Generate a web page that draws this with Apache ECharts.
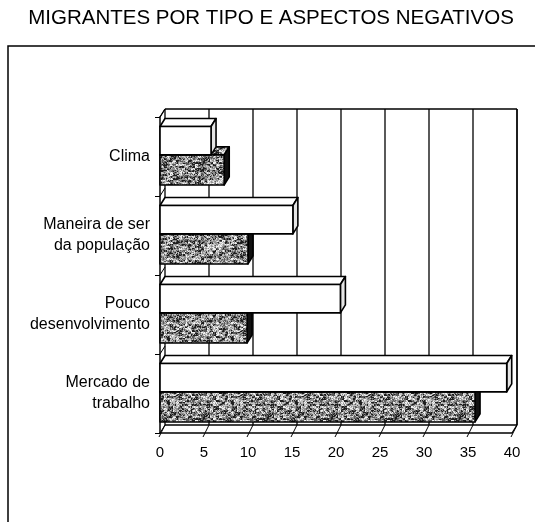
<!DOCTYPE html>
<html>
<head>
<meta charset="utf-8">
<script src="https://cdn.jsdelivr.net/npm/echarts@6/dist/echarts.min.js"></script>
<style>
  html, body { margin: 0; padding: 0; background: #fff; }
  #chart { width: 535px; height: 522px; }
</style>
</head>
<body>
<div id="chart"></div>
<script>
// Categories (top to bottom) and the two migrant groups per category
const categories = ['Clima', 'Maneira de ser\nda população', 'Pouco\ndesenvolvimento', 'Mercado de\ntrabalho'];
const plainBars = [5.8, 15.1, 20.5, 39.4];
const texturedBars = [7.3, 10.0, 9.9, 35.8];
const valueTicks = [0, 5, 10, 15, 20, 25, 30, 35, 40];

const chartTitle = 'MIGRANTES POR TIPO E ASPECTOS NEGATIVOS';

// Depth of the pseudo-3D box (px): back plane is shifted right and up
const DX = 5, DY = -8;
const INK = '#000';
const FONT = '"Liberation Sans", Arial, sans-serif';

// Deterministic speckled texture for the shaded bars
function hash(x, y) {
  let h = (Math.imul(x, 374761393) + Math.imul(y, 668265263)) | 0;
  h = Math.imul(h ^ (h >>> 13), 1274126177);
  return ((h ^ (h >>> 16)) >>> 0) / 4294967296;
}
function makeSpeckle() {
  const c = document.createElement('canvas');
  const S = 64;
  c.width = S; c.height = S;
  const ctx = c.getContext('2d');
  const img = ctx.createImageData(S, S);
  for (let y = 0; y < S; y++) {
    for (let x = 0; x < S; x++) {
      const n = 0.55 * hash(Math.floor(x / 3) + 11, Math.floor(y / 2) + 7) + 0.45 * hash(x + 101, y + 53);
      let v;
      if (n < 0.30) v = 30;
      else if (n < 0.44) v = 90;
      else if (n < 0.60) v = 145;
      else if (n < 0.78) v = 195;
      else v = 240;
      const i = (y * S + x) * 4;
      img.data[i] = img.data[i + 1] = img.data[i + 2] = v;
      img.data[i + 3] = 255;
    }
  }
  ctx.putImageData(img, 0, 0);
  return c;
}
const speckle = { image: makeSpeckle(), repeat: 'repeat' };

// Back wall, gridlines and floor
function renderFrame(params, api) {
  const cs = params.coordSys;
  const top = cs.y, bottom = cs.y + cs.height;
  const left = cs.x, right = cs.x + cs.width;
  const v = api.value(0);
  const x = api.coord([v, 0])[0];
  const children = [];
  const ln = (x1, y1, x2, y2, w) => children.push({
    type: 'line', shape: { x1, y1, x2, y2 },
    style: { stroke: INK, lineWidth: w || 1 }
  });
  // vertical gridline on the back wall
  ln(x + DX, top + DY, x + DX, bottom + DY, 1.3);
  // slanted tick across the floor
  ln(x - 1, bottom + 4, x + DX, bottom + DY, 1);
  if (params.dataIndex === 0) {
    ln(left + DX, top + DY, right + DX, top + DY, 1.5);      // wall top edge
    ln(right + DX, top + DY, right + DX, bottom + DY, 1.3);  // wall right edge
    ln(left + DX, bottom + DY, right + DX, bottom + DY, 1.3); // floor back edge
    ln(right, bottom, right + DX, bottom + DY, 1.3);          // floor right edge
    ln(left, top, left + DX, top + DY, 1.3);                  // side wall top edge
    const n = categories.length;
    for (let k = 0; k <= n; k++) {
      const yb = top + cs.height * k / n;
      ln(left, yb, left + DX, yb + DY, 1);
    }
  }
  return { type: 'group', children };
}

// One 3D box per data item
function makeBarRenderer(frontFill, topFill, sideFill, fromFrac, toFrac) {
  return function (params, api) {
    const val = api.value(0);
    const idx = api.value(1);
    const p0 = api.coord([0, idx]);
    const p1 = api.coord([val, idx]);
    const band = api.size([0, 1])[1];
    const x0 = p0[0], x1 = p1[0];
    const y0 = p0[1] + fromFrac * band;
    const y1 = p0[1] + toFrac * band;
    const stroke = { stroke: INK, lineWidth: 1.6, lineJoin: 'round' };
    return {
      type: 'group',
      children: [
        { type: 'polygon', shape: { points: [[x0, y0], [x0 + DX, y0 + DY], [x1 + DX, y0 + DY], [x1, y0]] },
          style: Object.assign({ fill: topFill }, stroke) },
        { type: 'polygon', shape: { points: [[x1, y0], [x1 + DX, y0 + DY], [x1 + DX, y1 + DY], [x1, y1]] },
          style: Object.assign({ fill: sideFill }, stroke) },
        { type: 'rect', shape: { x: x0, y: y0, width: x1 - x0, height: y1 - y0 },
          style: Object.assign({ fill: frontFill }, stroke) }
      ]
    };
  };
}

const chart = echarts.init(document.getElementById('chart'), null, { renderer: 'canvas' });

chart.setOption({
  animation: false,
  backgroundColor: '#fff',
  graphic: [
    { type: 'rect', shape: { x: 8, y: 46, width: 620, height: 600 },
      style: { fill: 'none', stroke: INK, lineWidth: 1.5 }, z: 0 },
    { type: 'text', x: 271, y: 8,
      style: { text: chartTitle, textAlign: 'center', textVerticalAlign: 'top',
               font: '20.5px ' + FONT, fill: INK } }
  ],
  grid: { left: 160, right: 23, top: 117, bottom: 89, containLabel: false },
  xAxis: {
    type: 'value', min: 0, max: 40, interval: 5,
    axisLine: { show: true, lineStyle: { color: INK, width: 1.5 } },
    axisTick: { show: false },
    splitLine: { show: false },
    axisLabel: { color: INK, fontSize: 15, fontFamily: FONT, margin: 12 }
  },
  yAxis: {
    type: 'category', data: categories, inverse: true,
    axisLine: { show: true, lineStyle: { color: INK, width: 1.5 } },
    axisTick: { show: true, length: 5, lineStyle: { color: INK, width: 1 } },
    splitLine: { show: false },
    axisLabel: { color: INK, fontSize: 16, lineHeight: 21, margin: 10, align: 'right',
                 fontFamily: FONT }
  },
  series: [
    {
      type: 'custom', name: 'frame', clip: false, z: 1,
      data: valueTicks.map(v => [v, 0]),
      encode: { x: 0, y: 1 },
      renderItem: renderFrame
    },
    {
      type: 'custom', name: 'textured', clip: false, z: 2,
      data: texturedBars.map((v, i) => [v, i]),
      encode: { x: 0, y: 1 },
      renderItem: makeBarRenderer(speckle, speckle, '#111', -0.02, 0.36)
    },
    {
      type: 'custom', name: 'plain', clip: false, z: 3,
      data: plainBars.map((v, i) => [v, i]),
      encode: { x: 0, y: 1 },
      renderItem: makeBarRenderer('#fff', '#fff', '#e4e4e4', -0.38, -0.02)
    }
  ]
});
</script>
</body>
</html>
